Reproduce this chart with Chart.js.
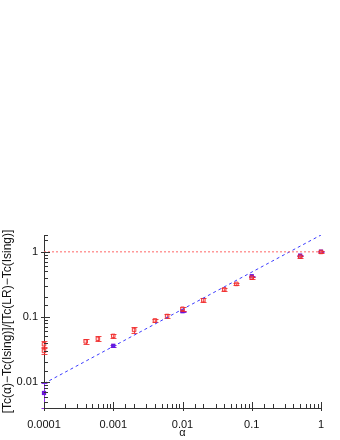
<!DOCTYPE html>
<html>
<head>
<meta charset="utf-8">
<script src="https://cdn.jsdelivr.net/npm/chart.js@4"></script>
<style>
  html, body { margin: 0; padding: 0; background: #fff; }
  #wrap { width: 340px; height: 440px; }
</style>
</head>
<body>
<div id="wrap"><canvas id="chart" width="340" height="440"></canvas></div>
<script>
// ── data ──
const alphaRed  = [0.0001, 0.0001, 0.0004, 0.0006, 0.001, 0.002, 0.004, 0.006, 0.01, 0.02, 0.04, 0.06, 0.1, 0.5, 1];
const ratioRed  = [0.038, 0.030, 0.042, 0.046, 0.051, 0.063, 0.088, 0.103, 0.133, 0.18, 0.264, 0.32, 0.40, 0.84, 0.99];
const errRed    = [0.004, 0.003, 0.003, 0.004, 0.004, 0.006, 0.006, 0.008, 0.01, 0.012, 0.015, 0.015, 0.015, 0.03, 0.02];

const alphaPurple = [0.0001, 0.001, 0.01, 0.1, 0.5, 1];
const ratioPurple = [0.0068, 0.036, 0.122, 0.42, 0.87, 1.0];
const errPurple   = [0.0028, 0.001, 0.003, 0.01, 0.02, 0.01];

const fitAlpha = [0.0001, 1];
const fitRatio = [0.0095, 1.8];
const refAlpha = [0.0001, 1];
const refRatio = [1, 1];

const xMajor = [0.0001, 0.001, 0.01, 0.1, 1];
const yMajor = [0.01, 0.1, 1];

const FONT = "'Liberation Sans', Arial, sans-serif";

function pts(xs, ys) { return xs.map((x, i) => ({ x: x, y: ys[i] })); }
function isMajor(v, list) { return list.some(m => Math.abs(v - m) / m < 1e-6); }

// error bars drawn through the scales
const errorBars = {
  id: 'errorBars',
  beforeDatasetDraw(chart, args) {
    const ds = chart.data.datasets[args.index];
    if (!ds.errors) return;
    const c = chart.ctx, xs = chart.scales.x, ys = chart.scales.y;
    c.save();
    c.strokeStyle = ds.errColor;
    c.lineWidth = 1;
    ds.data.forEach((p, i) => {
      const e = ds.errors[i];
      const px = Math.round(xs.getPixelForValue(p.x)) + 0.5;
      const y1 = Math.round(ys.getPixelForValue(p.y - e)) + 0.5;
      const y2 = Math.round(ys.getPixelForValue(p.y + e)) + 0.5;
      c.beginPath();
      c.moveTo(px, y1); c.lineTo(px, y2);
      c.moveTo(px - 3, y1); c.lineTo(px + 3, y1);
      c.moveTo(px - 3, y2); c.lineTo(px + 3, y2);
      c.stroke();
    });
    c.restore();
  }
};

// inward tick marks (major longer)
const inTicks = {
  id: 'inTicks',
  afterDraw(chart) {
    const c = chart.ctx, a = chart.chartArea;
    const xs = chart.scales.x, ys = chart.scales.y;
    c.save();
    c.strokeStyle = '#333';
    c.lineWidth = 1;
    c.beginPath();
    xs.ticks.forEach(t => {
      const px = Math.round(xs.getPixelForValue(t.value)) + 0.5;
      const maj = isMajor(t.value, xMajor);
      c.moveTo(px, a.bottom + (maj ? 3 : 0));
      c.lineTo(px, a.bottom - (maj ? 6 : 4));
    });
    ys.ticks.forEach(t => {
      const py = Math.round(ys.getPixelForValue(t.value)) + 0.5;
      const maj = isMajor(t.value, yMajor);
      c.moveTo(a.left - (maj ? 3 : 0), py);
      c.lineTo(a.left + (maj ? 6 : 4), py);
    });
    c.stroke();
    c.restore();
  }
};

new Chart(document.getElementById('chart').getContext('2d'), {
  type: 'scatter',
  data: {
    datasets: [
      {
        label: 'Tc(LR)',
        type: 'line',
        data: pts(refAlpha, refRatio),
        borderColor: 'rgba(255,110,110,0.7)',
        borderWidth: 1.5,
        borderDash: [2, 2],
        pointRadius: 0,
        fill: false
      },
      {
        label: 'fit',
        type: 'line',
        data: pts(fitAlpha, fitRatio),
        borderColor: '#3b3bff',
        borderWidth: 1,
        borderDash: [3, 3],
        pointRadius: 0,
        fill: false
      },
      {
        label: 'red',
        data: pts(alphaRed, ratioRed),
        errors: errRed,
        errColor: 'rgba(240,40,40,0.85)',
        pointStyle: 'rect',
        pointRadius: 2.5,
        borderWidth: 1,
        borderColor: 'rgba(240,40,40,0.9)',
        backgroundColor: 'rgba(255,140,140,0.35)',
        clip: false
      },
      {
        label: 'purple',
        data: pts(alphaPurple, ratioPurple),
        errors: errPurple,
        errColor: '#8a2be2',
        pointStyle: 'rect',
        pointRadius: 3,
        borderWidth: 0,
        backgroundColor: '#6a14d8',
        clip: false
      }
    ]
  },
  options: {
    responsive: false,
    animation: false,
    layout: { padding: { top: 235, right: 19, left: 0, bottom: 0 } },
    scales: {
      x: {
        type: 'logarithmic',
        min: 0.0001,
        max: 1,
        afterFit(s) { s.height = 32; },
        grid: { display: false },
        border: { display: true, color: '#333' },
        ticks: {
          autoSkip: false,
          maxRotation: 0,
          padding: 2,
          color: '#111',
          font: { family: FONT, size: 11 },
          callback: v => isMajor(v, xMajor) ? String(v) : ''
        },
        title: {
          display: true,
          text: 'α',
          color: '#111',
          padding: { top: 0, bottom: 0 },
          font: { family: FONT, size: 11 }
        }
      },
      y: {
        type: 'logarithmic',
        min: 0.004,
        max: 1.8,
        afterFit(s) { s.width = 44; },
        grid: { display: false, drawTicks: false, tickLength: 0 },
        border: { display: true, color: '#333' },
        ticks: {
          autoSkip: false,
          padding: 6,
          color: '#111',
          font: { family: FONT, size: 11 },
          callback: v => isMajor(v, yMajor) ? String(v) : ''
        },
        title: {
          display: true,
          text: '[Tc(α)−Tc(Ising)]/[Tc(LR)−Tc(Ising)]',
          color: '#111',
          padding: { top: 0, bottom: 0 },
          font: { family: FONT, size: 12 }
        }
      }
    },
    plugins: {
      legend: { display: false },
      tooltip: { enabled: false }
    }
  },
  plugins: [errorBars, inTicks]
});
</script>
</body>
</html>
